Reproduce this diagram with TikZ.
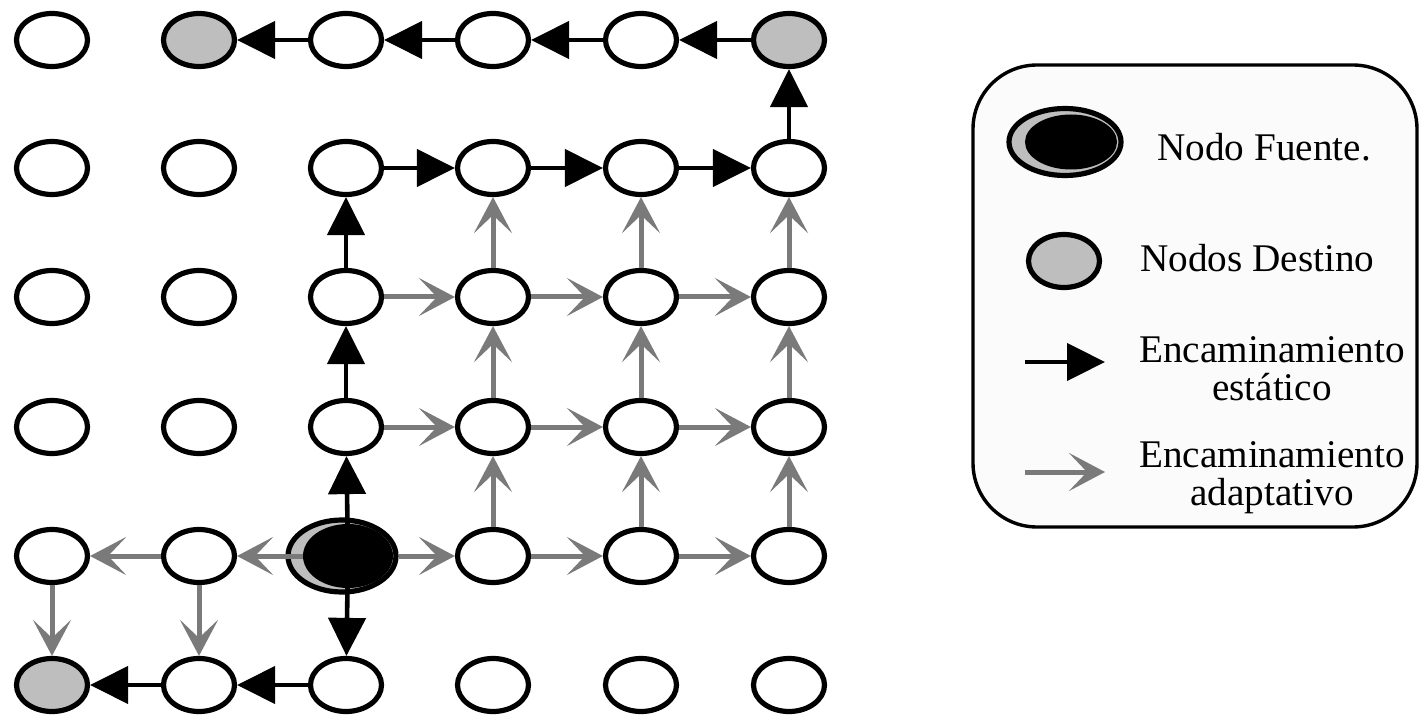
\documentclass[tikz,border=0pt]{standalone}
\usepackage{fontspec}
\setmainfont{Liberation Serif}
\usetikzlibrary{shapes.geometric,arrows.meta}
\definecolor{destgray}{HTML}{BEBEBE}
\definecolor{adaptgray}{HTML}{7A7A7A}
\begin{document}
\begin{tikzpicture}[x=0.5pt,y=-0.5pt,
 nd/.style={ellipse, draw=black, line width=2.6pt, fill=white, minimum width=35.5pt, minimum height=26.5pt, inner sep=0pt},
 dest/.style={nd, fill=destgray},
 srcout/.style={ellipse, draw=black, line width=2.6pt, fill=destgray, minimum width=54pt, minimum height=36pt, inner sep=0pt},
 srcin/.style={ellipse, fill=black, minimum width=45pt, minimum height=32pt, inner sep=0pt},
 stat/.style={draw=black, line width=2.3pt, -{Triangle[length=19pt,width=18.5pt]}},
 adap/.style={draw=adaptgray, line width=2.5pt, -{Stealth[length=18pt,width=19pt,inset=9pt]}},
 lbl/.style={font=\fontsize{19.6}{19}\selectfont, align=center, inner sep=0pt}
]
\useasboundingbox (0,0) rectangle (1421,717);
\fill[white] (0,0) rectangle (1421,717);
% row 1
\node[nd]   (n11) at (52,40) {};
\node[dest] (n12) at (199,40) {};
\node[nd]   (n13) at (346,40) {};
\node[nd]   (n14) at (493,40) {};
\node[nd]   (n15) at (641,40) {};
\node[dest] (n16) at (789,40) {};
% row 2
\node[nd] (n21) at (52,168) {};
\node[nd] (n22) at (199,168) {};
\node[nd] (n23) at (346,168) {};
\node[nd] (n24) at (493,168) {};
\node[nd] (n25) at (641,168) {};
\node[nd] (n26) at (789,168) {};
% row 3
\node[nd] (n31) at (52,297) {};
\node[nd] (n32) at (199,297) {};
\node[nd] (n33) at (346,297) {};
\node[nd] (n34) at (493,297) {};
\node[nd] (n35) at (641,297) {};
\node[nd] (n36) at (789,297) {};
% row 4
\node[nd] (n41) at (52,427) {};
\node[nd] (n42) at (199,427) {};
\node[nd] (n43) at (346,427) {};
\node[nd] (n44) at (493,427) {};
\node[nd] (n45) at (641,427) {};
\node[nd] (n46) at (789,427) {};
% row 5
\node[nd] (n51) at (52,556) {};
\node[nd] (n52) at (199,556) {};
\node[srcout] (n53) at (342,556) {};
\node[srcin] (n53i) at (348,556) {};
\node[nd] (n54) at (493,556) {};
\node[nd] (n55) at (641,556) {};
\node[nd] (n56) at (789,556) {};
% row 6
\node[dest] (n61) at (52,685) {};
\node[nd] (n62) at (199,685) {};
\node[nd] (n63) at (346,685) {};
\node[nd] (n64) at (493,685) {};
\node[nd] (n65) at (641,685) {};
\node[nd] (n66) at (789,685) {};
% static routing
\draw[stat] (n16) -- (n15);
\draw[stat] (n15) -- (n14);
\draw[stat] (n14) -- (n13);
\draw[stat] (n13) -- (n12);
\draw[stat] (n26) -- (n16);
\draw[stat] (n23) -- (n24);
\draw[stat] (n24) -- (n25);
\draw[stat] (n25) -- (n26);
\draw[stat] (n33) -- (n23);
\draw[stat] (n43) -- (n33);
\draw[stat] (n53i.center) -- (n43);
\draw[stat] (n53i.center) -- (n63);
\draw[stat] (n63) -- (n62);
\draw[stat] (n62) -- (n61);
% adaptive routing
\draw[adap] (n33) -- (n34);
\draw[adap] (n34) -- (n35);
\draw[adap] (n35) -- (n36);
\draw[adap] (n43) -- (n44);
\draw[adap] (n44) -- (n45);
\draw[adap] (n45) -- (n46);
\draw[adap] (n53) -- (n54);
\draw[adap] (n54) -- (n55);
\draw[adap] (n55) -- (n56);
\draw[adap] (n53i.west) -- (n52);
\draw[adap] (n52) -- (n51);
\draw[adap] (n51) -- (n61);
\draw[adap] (n52) -- (n62);
\foreach \c in {4,5,6}{
  \draw[adap] (n5\c) -- (n4\c);
  \draw[adap] (n4\c) -- (n3\c);
  \draw[adap] (n3\c) -- (n2\c);
}
% legend
\draw[line width=1.7pt, rounded corners=32pt, fill=gray!3] (973,65) rectangle (1417,527);
\node[srcout, minimum width=56pt, minimum height=33.5pt] (lsrc) at (1065,142) {};
\node[srcin, minimum width=46pt, minimum height=27.5pt] (lsrci) at (1071,142) {};
\node[lbl, anchor=west] (tsrc) at (1157,147) {Nodo Fuente.};
\node[dest] (ldest) at (1064,261) {};
\node[lbl, anchor=west] (tdest) at (1140,258) {Nodos Destino};
\coordinate (lsa) at (1025,362);
\coordinate (lsb) at (1105,362);
\draw[stat] (lsa) -- (lsb);
\node[lbl] (tstat) at (1272,369) {Encaminamiento\\estático};
\coordinate (laa) at (1025,472);
\coordinate (lab) at (1105,472);
\draw[adap] (laa) -- (lab);
\node[lbl] (tadap) at (1272,478) {Encaminamiento\\adaptativo};
\end{tikzpicture}
\end{document}
